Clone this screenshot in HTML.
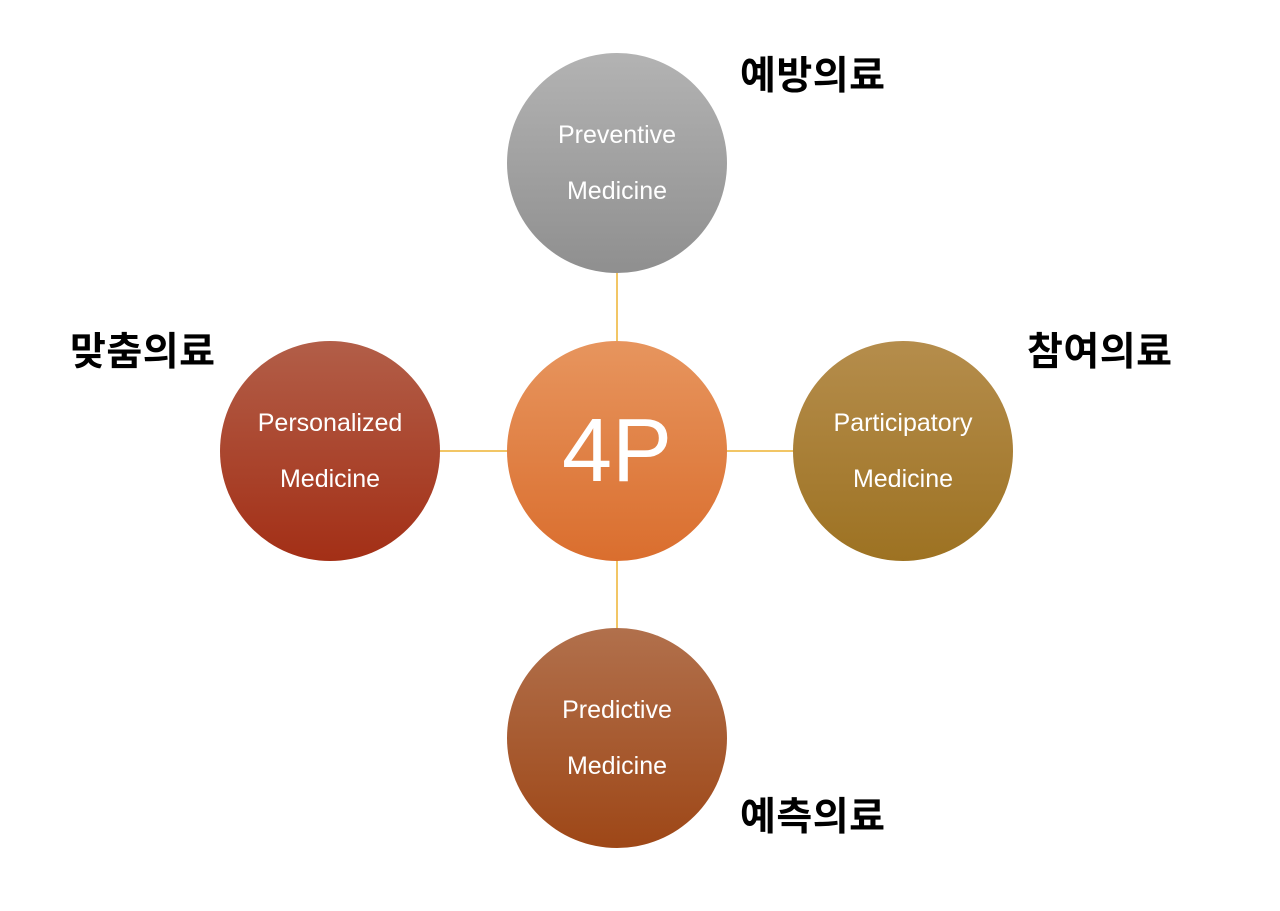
<!DOCTYPE html>
<html><head><meta charset="utf-8"><style>
body{margin:0;width:1280px;height:911px;background:#fff;position:relative;overflow:hidden;font-family:"Liberation Sans","Noto Sans CJK KR",sans-serif}
.c{position:absolute;width:220px;height:220px;border-radius:50%;color:#fff;display:flex;align-items:center;justify-content:center;text-align:center;font-size:25px;line-height:56px}
.k{position:absolute;font-weight:bold;font-size:39px;color:#000;font-family:"Liberation Sans","Noto Sans CJK KR",sans-serif;line-height:42px;letter-spacing:0.5px}
.l{position:absolute;background:#f2c665}
</style></head><body>
<div class="l" style="left:616px;top:270px;width:2px;height:365px"></div>
<div class="l" style="left:440px;top:450px;width:360px;height:2px"></div>
<div class="c" style="left:507px;top:53px;background:linear-gradient(#b3b3b3,#8f8f8f)">Preventive<br>Medicine</div>
<div class="c" style="left:507px;top:341px;background:linear-gradient(#e7955e,#da6e2e);font-size:90px;line-height:90px">4P</div>
<div class="c" style="left:220px;top:341px;background:linear-gradient(#b25e48,#a32f16)">Personalized<br>Medicine</div>
<div class="c" style="left:793px;top:341px;background:linear-gradient(#b58d4c,#9d7222)">Participatory<br>Medicine</div>
<div class="c" style="left:507px;top:628px;background:linear-gradient(#b1704c,#9e4717)">Predictive<br>Medicine</div>
<div class="k" style="left:740px;top:56px">예방의료</div>
<div class="k" style="left:70px;top:332px">맞춤의료</div>
<div class="k" style="left:1027px;top:332px">참여의료</div>
<div class="k" style="left:740px;top:797px">예측의료</div>
</body></html>
